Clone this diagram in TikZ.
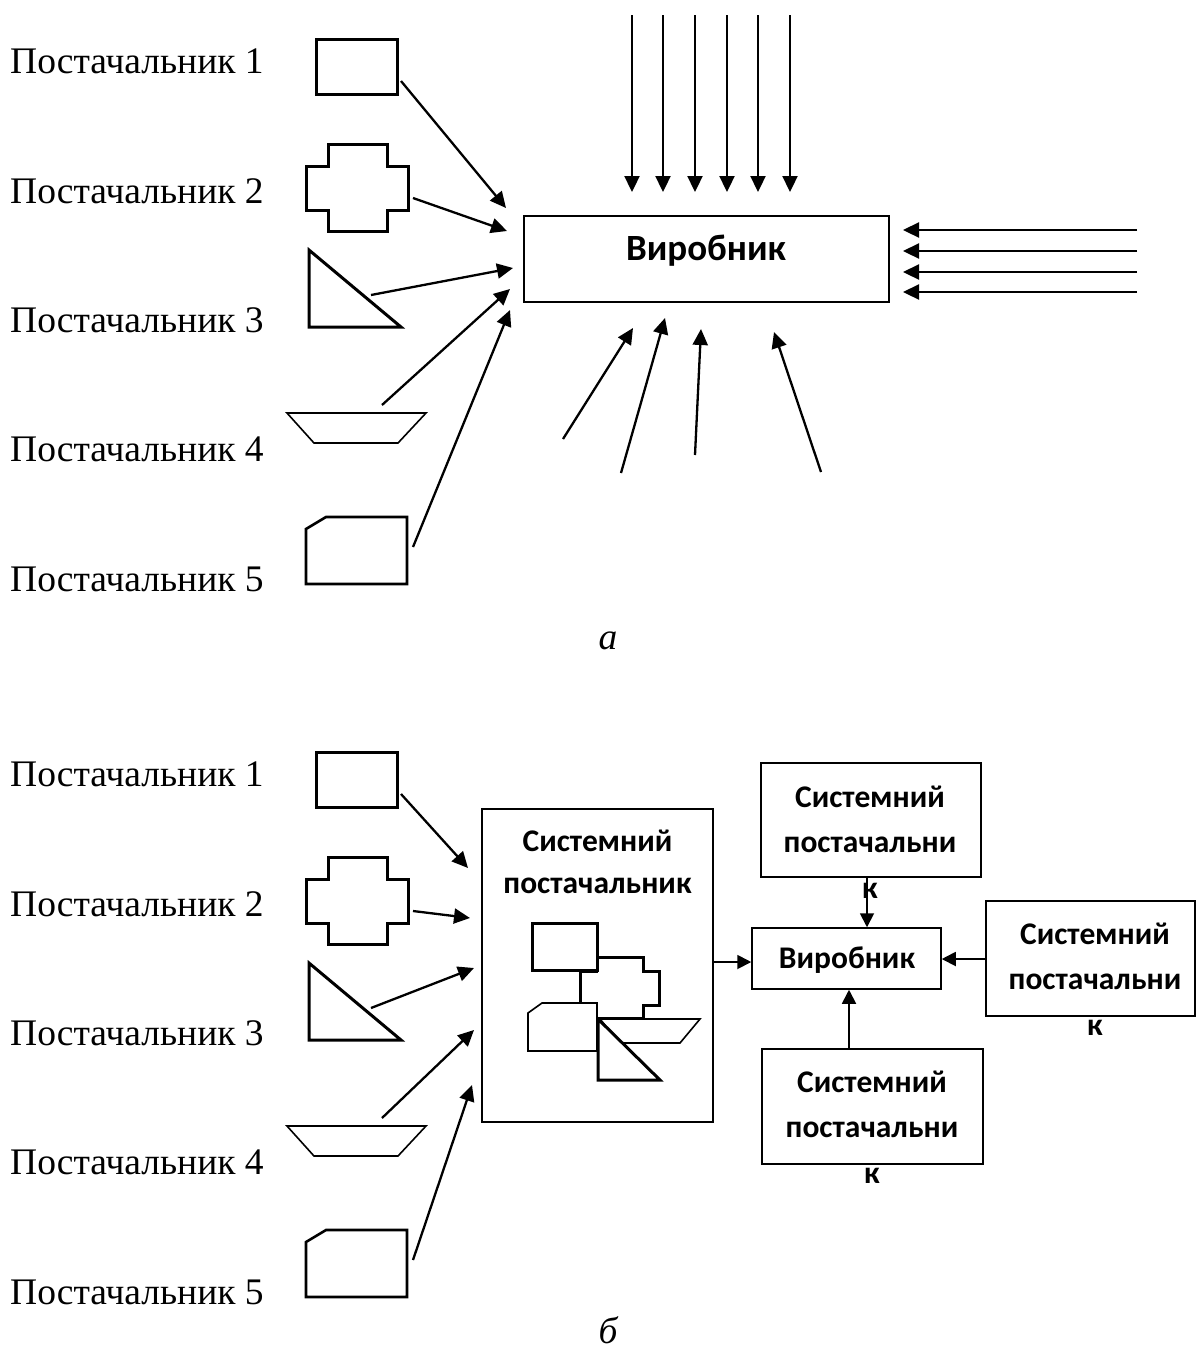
\documentclass[tikz,border=0pt]{standalone}
\usepackage{fontspec}
\setmainfont{Liberation Serif}
\newfontfamily\boxfont{Carlito}
\usetikzlibrary{arrows.meta}

\tikzset{
  lbl/.style={anchor=base west, inner sep=0pt, font=\fontsize{37.5}{45}\selectfont},
  capt/.style={inner sep=0pt, font=\fontsize{37.5}{45}\selectfont\itshape},
  shp/.style={draw, line width=3pt, fill=white, line join=miter},
  thinshp/.style={draw, line width=1.6pt, fill=white, line join=miter},
  arr/.style={line width=2.3pt, -{Triangle[length=16pt,width=15pt]}},
  sarr/.style={line width=1.8pt, -{Triangle[length=14pt,width=14pt]}},
  box/.style={draw, line width=1.8pt, inner sep=0pt},
  bigtxt/.style={font=\boxfont\bfseries\fontsize{37}{44}\selectfont, inner sep=0pt},
  boxtxt/.style={font=\boxfont\bfseries\fontsize{31.5}{45.5}\selectfont, align=center, inner sep=0pt},
  % five suppliers with their labels and symbols
  suppliers/.pic={
    \node[lbl] (-l1) at (10,73)  {Постачальник 1};
    \node[lbl] (-l2) at (10,203) {Постачальник 2};
    \node[lbl] (-l3) at (10,332) {Постачальник 3};
    \node[lbl] (-l4) at (10,461) {Постачальник 4};
    \node[lbl] (-l5) at (10,591) {Постачальник 5};
    \draw[shp] (316,39) rectangle (397,94);
    \draw[shp] (328,144) -- (387,144) -- (387,166) -- (408,166) -- (408,210)
      -- (387,210) -- (387,231) -- (328,231) -- (328,210) -- (306,210)
      -- (306,166) -- (328,166) -- cycle;
    \draw[shp] (309,250) -- (309,327) -- (401,327) -- cycle;
    \draw[thinshp] (287,413) -- (426,413) -- (398,443) -- (314,443) -- cycle;
    \draw[shp, line width=2.6pt] (306,529) -- (326,517) -- (407,517) -- (407,584)
      -- (306,584) -- cycle;
    \coordinate (-o1) at (401,81);
    \coordinate (-o2) at (413,198);
    \coordinate (-o3) at (371,295);
    \coordinate (-o4) at (382,405);
    \coordinate (-o5) at (413,547);
  }
}

\begin{document}
\begin{tikzpicture}[x=1pt, y=-1pt]
\useasboundingbox (0,0) rectangle (1197,1361);

% ---------- part a ----------
\pic (A) at (0,0) {suppliers};
\node[box, minimum width=365pt, minimum height=86pt] (virA) at (706.5,259) {};
\node[bigtxt] (virAt) at (706,251) {Виробник};

\coordinate (At1) at (506,208);
\coordinate (At2) at (507,231);
\coordinate (At3) at (513,268);
\coordinate (At4) at (510,289);
\coordinate (At5) at (510,310);
\foreach \i in {1,...,5} \draw[arr] (A-o\i) -- (At\i);

% flows from above
\foreach \x [count=\k] in {632,663,695,727,758,790} {
  \coordinate (up\k) at (\x,15);
  \coordinate (upe\k) at (\x,192);
  \draw[arr] (up\k) -- (upe\k);
}
% flows from the right
\foreach \y [count=\k] in {230,251,272,292} {
  \coordinate (rs\k) at (1137,\y);
  \coordinate (re\k) at (903,\y);
  \draw[arr] (rs\k) -- (re\k);
}
% flows from below
\coordinate (bs1) at (563,439); \coordinate (be1) at (633,328);
\coordinate (bs2) at (621,473); \coordinate (be2) at (665,318);
\coordinate (bs3) at (695,455); \coordinate (be3) at (701,329);
\coordinate (bs4) at (821,472); \coordinate (be4) at (774,332);
\foreach \i in {1,...,4} \draw[arr] (bs\i) -- (be\i);

\node[capt] (capA) at (608,641) {а};

% ---------- part b ----------
\pic (B) at (0,713) {suppliers};

\node[box, line width=1.5pt, minimum width=231pt, minimum height=313pt] (spbig) at (597.5,965.5) {};
\node[boxtxt, align=center] (spbigt) at (597.5,862) {Системний\\[-4pt]постачальник};

% merged supplier symbols inside the system supplier
\draw[shp] (596,957) -- (643,957) -- (643,971) -- (659,971) -- (659,1005)
  -- (643,1005) -- (643,1018) -- (596,1018) -- (596,1005) -- (580,1005)
  -- (580,971) -- (596,971) -- cycle;
\draw[shp] (532,923) rectangle (597,970);
\draw[thinshp] (528,1013) -- (542,1003) -- (597,1003) -- (597,1051) -- (528,1051) -- cycle;
\draw[thinshp] (600,1019) -- (700,1019) -- (680,1043) -- (620,1043) -- cycle;
\draw[shp] (598,1019) -- (598,1080) -- (660,1080) -- cycle;

\coordinate (Bt1) at (468,868);
\coordinate (Bt2) at (470,918);
\coordinate (Bt3) at (474,968);
\coordinate (Bt4) at (474,1030);
\coordinate (Bt5) at (472,1085);
\foreach \i in {1,...,5} \draw[arr] (B-o\i) -- (Bt\i);

\node[box, line width=1.5pt, minimum width=189pt, minimum height=61pt] (virB) at (846.5,958.5) {};
\node[bigtxt, font=\boxfont\bfseries\fontsize{31.5}{38}\selectfont] (virBt) at (847,960) {Виробник};

\node[box, line width=1.5pt, minimum width=220pt, minimum height=114pt] (spT) at (871,820) {};
\node[boxtxt] (spTt) at (870,842) {Системний\\постачальни\\к};

\node[box, line width=1.5pt, minimum width=209pt, minimum height=115pt] (spR) at (1090.5,958.5) {};
\node[boxtxt] (spRt) at (1095,979) {Системний\\постачальни\\к};

\node[box, line width=1.5pt, minimum width=221pt, minimum height=115pt] (spD) at (872.5,1106.5) {};
\node[boxtxt] (spDt) at (872,1127) {Системний\\постачальни\\к};

\draw[sarr] (spbig.east |- 0,962) -- (virB.west |- 0,962);
\draw[sarr] (spT.south -| 867,0) -- (virB.north -| 867,0);
\draw[sarr] (spR.west |- 0,959) -- (virB.east |- 0,959);
\draw[sarr] (spD.north -| 849,0) -- (virB.south -| 849,0);

\node[capt] (capB) at (608,1330) {б};
\end{tikzpicture}
\end{document}
